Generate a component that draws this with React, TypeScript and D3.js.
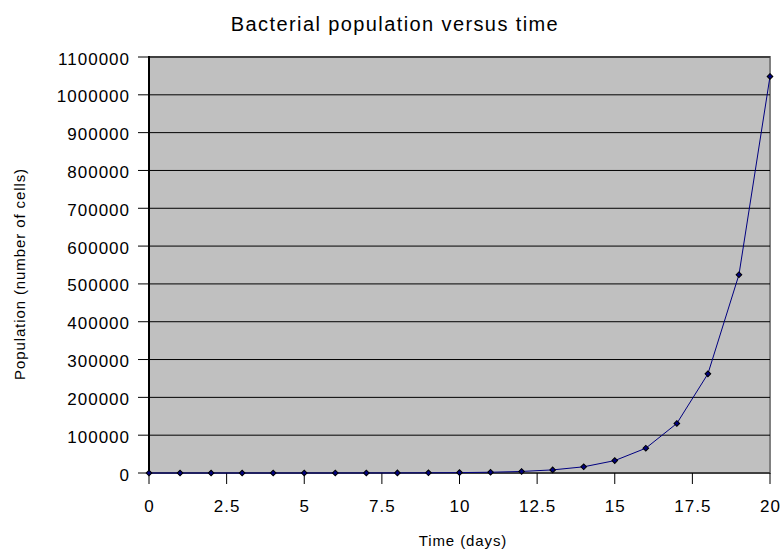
import React, { useEffect, useRef } from 'react';
import * as d3 from 'd3';

const days = [0, 1, 2, 3, 4, 5, 6, 7, 8, 9, 10, 11, 12, 13, 14, 15, 16, 17, 18, 19, 20];
const population = [
  1, 2, 4, 8, 16, 32, 64, 128, 256, 512, 1024, 2048, 4096, 8192, 16384, 32768,
  65536, 131072, 262144, 524288, 1048576,
];
const xTicks = [0, 2.5, 5, 7.5, 10, 12.5, 15, 17.5, 20];
const yTicks = [0, 100000, 200000, 300000, 400000, 500000, 600000, 700000, 800000, 900000, 1000000, 1100000];

const font = 'Liberation Sans, Arial, sans-serif';

export default function App() {
  const svgRef = useRef<SVGSVGElement>(null);

  useEffect(() => {
    if (!svgRef.current) return;
    const svg = d3.select(svgRef.current);
    svg.selectAll('*').remove();

    const left = 149, right = 770, top = 57, bottom = 473;

    const x = d3.scaleLinear().domain([0, 20]).range([left, right]);
    const y = d3.scaleLinear().domain([0, 1100000]).range([bottom, top]);

    // plot area
    svg.append('rect')
      .attr('x', left).attr('y', top)
      .attr('width', right - left).attr('height', bottom - top)
      .attr('fill', '#c0c0c0')
      .attr('stroke', '#808080').attr('stroke-width', 2);

    // gridlines
    svg.selectAll('.grid')
      .data(yTicks.filter(d => d > 0))
      .enter().append('line')
      .attr('x1', left).attr('x2', right)
      .attr('y1', d => y(d)).attr('y2', d => y(d))
      .attr('stroke', '#000').attr('stroke-width', 1);

    // y axis
    svg.append('line')
      .attr('x1', left).attr('x2', left).attr('y1', top - 1).attr('y2', bottom + 1)
      .attr('stroke', '#000').attr('stroke-width', 2);
    svg.selectAll('.ytick')
      .data(yTicks)
      .enter().append('line')
      .attr('x1', left - 11).attr('x2', left)
      .attr('y1', d => y(d)).attr('y2', d => y(d))
      .attr('stroke', '#000').attr('stroke-width', 1);
    svg.selectAll('.ylabel')
      .data(yTicks)
      .enter().append('text')
      .attr('x', 130).attr('y', d => y(d) + 7.5)
      .attr('text-anchor', 'end')
      .attr('font-family', font).attr('font-size', 17)
      .attr('letter-spacing', 1)
      .text(d => String(d));

    // x axis
    svg.append('line')
      .attr('x1', left).attr('x2', right).attr('y1', bottom).attr('y2', bottom)
      .attr('stroke', '#000').attr('stroke-width', 1);
    svg.selectAll('.xtick')
      .data(xTicks)
      .enter().append('line')
      .attr('x1', d => x(d)).attr('x2', d => x(d))
      .attr('y1', bottom).attr('y2', bottom + 11)
      .attr('stroke', '#000').attr('stroke-width', 1);
    svg.selectAll('.xlabel')
      .data(xTicks)
      .enter().append('text')
      .attr('x', d => x(d) + 0.5).attr('y', bottom + 39)
      .attr('text-anchor', 'middle')
      .attr('font-family', font).attr('font-size', 17)
      .attr('letter-spacing', 1)
      .text(d => String(d));

    // series line
    const pts = days.map((d, i) => [d, population[i]] as [number, number]);
    const line = d3.line<[number, number]>().x(d => x(d[0])).y(d => y(d[1]));
    svg.append('path')
      .attr('d', line(pts) || '')
      .attr('fill', 'none')
      .attr('stroke', '#000080').attr('stroke-width', 1);

    // markers: square turned 45 degrees
    const diamond = d3.symbol().type(d3.symbolSquare).size(16);
    svg.selectAll('.pt')
      .data(pts)
      .enter().append('path')
      .attr('d', diamond() || '')
      .attr('transform', d => `translate(${x(d[0])},${y(d[1])}) rotate(45)`)
      .attr('fill', '#000080')
      .attr('stroke', '#000').attr('stroke-width', 1);

    // titles
    svg.append('text')
      .attr('x', 395).attr('y', 31)
      .attr('text-anchor', 'middle')
      .attr('font-family', font).attr('font-size', 20)
      .attr('letter-spacing', 1.4)
      .text('Bacterial population versus time');
    svg.append('text')
      .attr('x', 463).attr('y', 546)
      .attr('text-anchor', 'middle')
      .attr('font-family', font).attr('font-size', 15)
      .attr('letter-spacing', 0.9)
      .text('Time (days)');
    svg.append('text')
      .attr('transform', 'translate(25,274) rotate(-90)')
      .attr('text-anchor', 'middle')
      .attr('font-family', font).attr('font-size', 15)
      .attr('letter-spacing', 0.9)
      .text('Population (number of cells)');
  }, []);

  return (
    <div style={{ position: 'absolute', left: 0, top: 0, background: '#fff' }}>
      <svg ref={svgRef} width={780} height={550} style={{ display: 'block' }} />
    </div>
  );
}
